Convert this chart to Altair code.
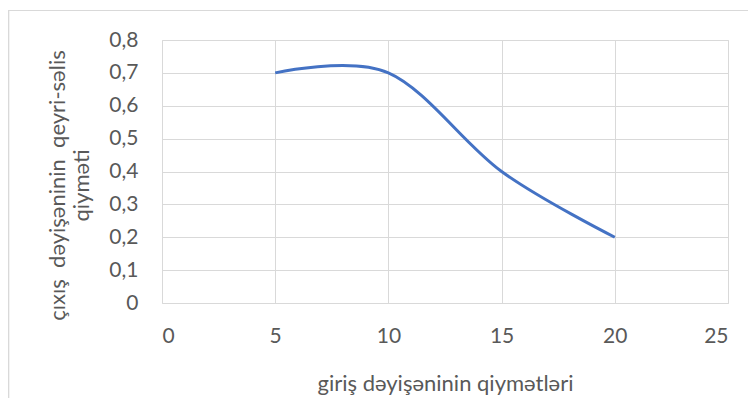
import altair as alt
import pandas as pd

x_vals = [5, 10, 15, 20]
y_vals = [0.7, 0.7, 0.4, 0.2]
x_ticks = [0, 5, 10, 15, 20, 25]
y_ticks = [0, 0.1, 0.2, 0.3, 0.4, 0.5, 0.6, 0.7, 0.8]
x_title = "giriş dəyişəninin qiymətləri"
y_title = ["çıxış\u00a0 dəyişəninin\u00a0 qeyri-səlis", "qiyməti"]

df = pd.DataFrame({"x": x_vals, "y": y_vals})

FONT = "Lato"
TXT = "#595959"
GRID = "#d9d9d9"

x_enc = alt.X(
    "x:Q",
    scale=alt.Scale(domain=[0, 25], nice=False, zero=False),
    axis=alt.Axis(
        values=x_ticks, title=x_title, grid=True, gridColor=GRID, domain=False,
        ticks=False, labelPadding=22, labelFontSize=21, labelColor=TXT, labelFont=FONT,
        titleFontSize=22, titleColor=TXT, titleFont=FONT, titleFontWeight="normal",
        titleY=80, titleBaseline="middle",
    ),
)
y_enc = alt.Y(
    "y:Q",
    scale=alt.Scale(domain=[0, 0.8], nice=False),
    axis=alt.Axis(
        values=y_ticks, title=y_title, grid=True, gridColor=GRID, domain=False,
        ticks=False, labelPadding=24, labelFontSize=21, labelColor=TXT, labelFont=FONT,
        labelExpr="datum.value == 0 ? '0' : replace(format(datum.value, '.1f'), '.', ',')",
        titleFontSize=22, titleColor=TXT, titleFont=FONT, titleFontWeight="normal",
        titleX=-93, titleY=145, titleLineHeight=24,
    ),
)

line = alt.Chart(df).mark_line(
    interpolate="cardinal", tension=0, color="#4472C4", strokeWidth=3
).encode(x=x_enc, y=y_enc)

border = alt.Chart(df).mark_rect(
    fill=None, fillOpacity=0, stroke=GRID, strokeWidth=1.2
).encode(
    x=alt.value(-153.5), x2=alt.value(700), y=alt.value(-29.5), y2=alt.value(500)
)

chart = alt.layer(border, line).properties(
    width=566,
    height=263,
    autosize=alt.AutoSizeParams(type="none"),
    padding={"left": 154, "top": 32, "right": 20, "bottom": 95},
).configure_view(stroke=None).configure(background="white")

chart.save("out.html", embed_options={"renderer": "svg", "actions": False})
